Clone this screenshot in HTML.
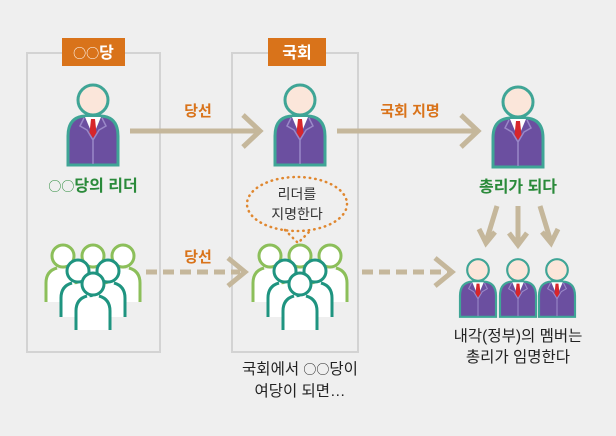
<!DOCTYPE html>
<html><head><meta charset="utf-8"><style>
html,body{margin:0;padding:0;background:#efefef;}
svg{display:block;}
text{font-family:"Liberation Sans","Noto Sans CJK KR",sans-serif;}
.o{font-family:"Noto Sans CJK KR",sans-serif;font-weight:normal;font-size:13px;}
</style></head><body>
<svg width="616" height="436" viewBox="0 0 616 436" xmlns="http://www.w3.org/2000/svg">
<defs>
<g id="p">
  <path d="M-25,65 V36 Q-25,17 -8,16 L8,16 Q25,17 25,36 V65 Z" fill="#6b4fa0" stroke="#3fa596" stroke-width="3"/>
  <polygon points="-8,17 8,17 0,36" fill="#fff"/>
  <polygon points="-2,19 2,19 3.5,33 0,38 -3.5,33" fill="#d7262b"/>
  <path d="M-9,18 L-13,26 L-6,30 L0,40 M9,18 L13,26 L6,30 L0,40 M0,40 V64" fill="none" stroke="#9a88c8" stroke-width="1.5"/>
  <circle cx="0" cy="0" r="15" fill="#fbe6da" stroke="#3fa596" stroke-width="3"/>
</g>
<g id="c">
  <path d="M-17,46 V27 Q-17,13 0,13 Q17,13 17,27 V46 Z" fill="#fff" stroke="none"/>
  <path d="M-17,46 V27 Q-17,15 -6,12 M6,12 Q17,15 17,27 V46" fill="none" stroke="inherit" stroke-width="3"/>
  <circle cx="0" cy="0" r="11" fill="#fff" stroke="inherit" stroke-width="3"/>
</g>
<g id="crowd">
  <use href="#c" x="-30" y="0" stroke="#8cbf5a"/>
  <use href="#c" x="0" y="0" stroke="#8cbf5a"/>
  <use href="#c" x="30" y="0" stroke="#8cbf5a"/>
  <use href="#c" x="-15" y="15" stroke="#1f9480"/>
  <use href="#c" x="15" y="15" stroke="#1f9480"/>
  <use href="#c" x="0" y="28" stroke="#1f9480"/>
</g>
</defs>

<rect x="27" y="53" width="133" height="299" fill="none" stroke="#d3d3d3" stroke-width="2"/>
<rect x="232" y="53" width="126" height="299" fill="none" stroke="#d3d3d3" stroke-width="2"/>
<rect x="62" y="38" width="63" height="28" fill="#d9731a"/>
<text x="93.5" y="58" font-size="16" font-weight="bold" fill="#fff" text-anchor="middle"><tspan class="o">○○</tspan>당</text>
<rect x="268" y="38" width="58" height="28" fill="#d9731a"/>
<text x="297" y="58" font-size="16" font-weight="bold" fill="#fff" text-anchor="middle">국회</text>

<use href="#p" x="93" y="100"/>
<use href="#p" x="300" y="100"/>
<use href="#p" x="518" y="102"/>

<g stroke="#c5b79b" stroke-width="5" fill="none">
<path d="M130,131 H258 M243,115 L260,131 L243,147"/>
<path d="M337,131 H476 M461,115 L478,131 L461,147"/>
<path d="M146,272 H240" stroke-dasharray="11,6"/>
<path d="M228,258 L245,272 L228,286"/>
<path d="M362,272 H448" stroke-dasharray="11,6"/>
<path d="M435,258 L452,272 L435,286"/>
<path d="M497,206 L486,242 M479,229 L486,243 L495,232"/>
<path d="M518,206 V244 M509,233 L518,245 L527,233"/>
<path d="M540,206 L551,242 M542,232 L551,243 L558,229"/>
</g>
<text x="198" y="116" font-size="15" font-weight="bold" fill="#d9731a" text-anchor="middle">당선</text>
<text x="410" y="116" font-size="15" font-weight="bold" fill="#d9731a" text-anchor="middle">국회 지명</text>
<text x="198" y="262" font-size="15" font-weight="bold" fill="#d9731a" text-anchor="middle">당선</text>

<text x="93" y="191" font-size="16" font-weight="bold" fill="#2a8a3a" text-anchor="middle"><tspan class="o">○○</tspan>당의 리더</text>
<text x="518" y="192" font-size="16" font-weight="bold" fill="#2a8a3a" text-anchor="middle">총리가 되다</text>

<ellipse cx="297" cy="204" rx="50" ry="27" fill="none" stroke="#e0872f" stroke-width="2.5" stroke-dasharray="0.5,5" stroke-linecap="round"/>
<path d="M285,230 L298,243 L311,230" fill="none" stroke="#e0872f" stroke-width="2.5" stroke-dasharray="0.5,5" stroke-linecap="round"/>
<text x="297" y="199" font-size="14" fill="#333" text-anchor="middle">리더를</text>
<text x="297" y="219" font-size="14" fill="#333" text-anchor="middle">지명한다</text>

<use href="#crowd" x="93" y="256"/>
<use href="#crowd" x="300" y="256"/>

<g transform="translate(478,270) scale(0.72)"><use href="#p"/></g>
<g transform="translate(518,270) scale(0.72)"><use href="#p"/></g>
<g transform="translate(557,270) scale(0.72)"><use href="#p"/></g>

<text x="518" y="341" font-size="15.5" fill="#222" text-anchor="middle">내각(정부)의 멤버는</text>
<text x="518" y="362" font-size="15.5" fill="#222" text-anchor="middle">총리가 임명한다</text>
<text x="300" y="374" font-size="15.5" fill="#222" text-anchor="middle">국회에서 <tspan class="o">○○</tspan>당이</text>
<text x="300" y="396" font-size="15.5" fill="#222" text-anchor="middle">여당이 되면…</text>
</svg>
</body></html>
